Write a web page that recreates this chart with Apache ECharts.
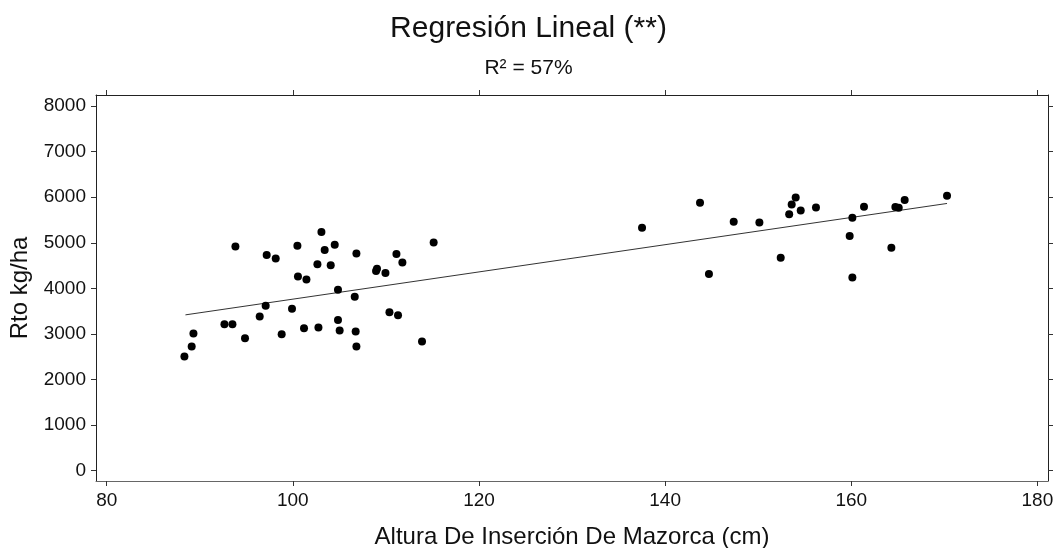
<!DOCTYPE html>
<html>
<head>
<meta charset="utf-8">
<script src="https://cdn.jsdelivr.net/npm/echarts@6/dist/echarts.min.js"></script>
<style>html,body{margin:0;padding:0;background:#fff;}#c{width:1057px;height:548px;}</style>
</head>
<body>
<div id="c"></div>
<script>
var altura = [88.35,89.13,89.32,92.65,93.51,93.83,94.86,96.44,97.08,97.19,98.16,98.80,99.91,100.49,100.55,101.20,101.46,102.64,102.75,103.07,103.42,104.07,104.50,104.85,104.85,105.03,106.65,106.75,106.83,106.83,108.94,109.04,109.95,110.38,111.13,111.30,111.77,113.88,115.13,137.52,143.75,144.71,147.37,150.13,152.42,153.33,153.60,154.03,154.57,156.21,159.83,160.12,160.12,161.37,164.31,164.74,165.10,165.74,170.29];
var rendimiento = [2503,2722,3008,3214,3214,4918,2907,3381,3616,4729,4654,2995,3550,4933,4259,3126,4193,4531,3139,5234,4839,4509,4955,3967,3308,3074,3813,3052,2722,4764,4378,4428,4334,3478,4751,3412,4566,2832,5005,5328,5877,4312,5460,5445,4670,5625,5840,5993,5708,5774,5146,5548,4237,5789,4889,5783,5767,5936,6031];
var lineaX = [88.46,170.29];
var lineaY = [3418,5862];
var xTicks = [80,100,120,140,160,180];
var yTicks = [0,1000,2000,3000,4000,5000,6000,7000,8000];

var puntos = altura.map(function(x,i){return [x,rendimiento[i]];});
var linea = lineaX.map(function(x,i){return [x,lineaY[i]];});
var ff = '"Liberation Sans", Arial, sans-serif';
var xr = {min:78.85,max:181.14};
var yr = {min:-226,max:8241};
function plain(v){return String(v);}

var chart = echarts.init(document.getElementById('c'));
chart.setOption({
  animation:false,
  backgroundColor:'#fff',
  title:[
    {text:'Regresión Lineal (**)',left:'center',top:9,textStyle:{fontFamily:ff,fontSize:30,fontWeight:'normal',color:'#111'}},
    {text:'R² = 57%',left:'center',top:53,textStyle:{fontFamily:ff,fontSize:21,fontWeight:'normal',color:'#111'}}
  ],
  grid:{left:96,right:9,top:95,bottom:67,outerBoundsMode:'none',containLabel:false},
  xAxis:[
    {type:'value',position:'bottom',min:xr.min,max:xr.max,
     name:'Altura De Inserción De Mazorca (cm)',nameLocation:'middle',nameGap:44,
     nameTextStyle:{fontFamily:ff,fontSize:24,color:'#111'},
     axisLine:{show:true,onZero:false,lineStyle:{color:'#666',width:1}},
     axisTick:{show:true,length:5,lineStyle:{color:'#333'},customValues:xTicks},
     axisLabel:{fontFamily:ff,fontSize:19,color:'#111',margin:10,customValues:xTicks,formatter:plain},
     splitLine:{show:false}},
    {type:'value',position:'top',min:xr.min,max:xr.max,
     axisLine:{show:true,onZero:false,lineStyle:{color:'#222',width:1}},
     axisTick:{show:true,length:5,lineStyle:{color:'#333'},customValues:xTicks},
     axisLabel:{show:false},splitLine:{show:false}}
  ],
  yAxis:[
    {type:'value',position:'left',min:yr.min,max:yr.max,
     name:'Rto kg/ha',nameLocation:'middle',nameGap:59,
     nameTextStyle:{fontFamily:ff,fontSize:24,color:'#111'},
     axisLine:{show:true,onZero:false,lineStyle:{color:'#222',width:1}},
     axisTick:{show:true,length:5,lineStyle:{color:'#333'},customValues:yTicks},
     axisLabel:{fontFamily:ff,fontSize:19,color:'#111',margin:10,customValues:yTicks,formatter:plain},
     splitLine:{show:false}},
    {type:'value',position:'right',min:yr.min,max:yr.max,
     axisLine:{show:true,onZero:false,lineStyle:{color:'#222',width:1}},
     axisTick:{show:true,length:5,lineStyle:{color:'#333'},customValues:yTicks},
     axisLabel:{show:false},splitLine:{show:false}}
  ],
  series:[
    {type:'line',data:linea,xAxisIndex:0,yAxisIndex:0,symbol:'none',lineStyle:{color:'#333',width:1},z:1},
    {type:'scatter',data:puntos,xAxisIndex:0,yAxisIndex:0,symbol:'circle',symbolSize:8,itemStyle:{color:'#000',opacity:1},z:2}
  ]
});
</script>
</body>
</html>
